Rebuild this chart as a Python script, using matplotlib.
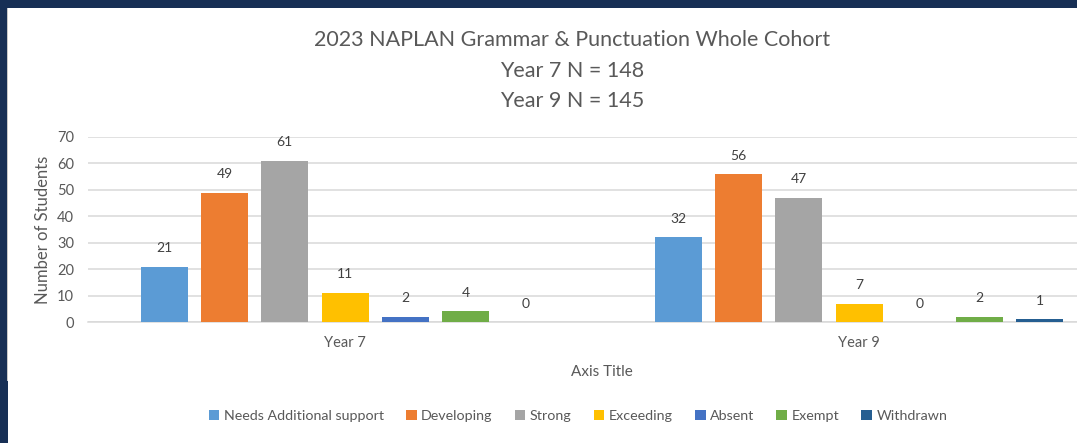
import matplotlib
matplotlib.use("Agg")
import matplotlib.pyplot as plt
from matplotlib.patches import Rectangle, Patch
import numpy as np

plt.rcParams['font.family'] = ['Lato', 'DejaVu Sans']

categories = ["Year 7", "Year 9"]
series_names = ["Needs Additional support", "Developing", "Strong", "Exceeding",
                "Absent", "Exempt", "Withdrawn"]
values = {
    "Needs Additional support": [21, 32],
    "Developing": [49, 56],
    "Strong": [61, 47],
    "Exceeding": [11, 7],
    "Absent": [2, 0],
    "Exempt": [4, 2],
    "Withdrawn": [0, 1],
}
colors = ["#5B9BD5", "#ED7D31", "#A5A5A5", "#FFC000", "#4472C4", "#70AD47", "#255E91"]
title_lines = ["2023 NAPLAN Grammar & Punctuation Whole Cohort", "Year 7 N = 148", "Year 9 N = 145"]

W, H = 1077, 443
fig = plt.figure(figsize=(W / 100, H / 100), dpi=100)
fig.patch.set_facecolor("white")

# axes: left 88px, right ~1116px (cropped), bottom y=322, top y=137
ax = fig.add_axes([88 / W, (H - 322) / H, (1116 - 88) / W, (322 - 137) / H])
ax.set_facecolor("white")

x = np.arange(len(categories))
spacing = 60.3 / 514
width = 47 / 514
text_col = "#595959"
for i, name in enumerate(series_names):
    pos = x + (i - 3) * spacing
    bars = ax.bar(pos, values[name], width=width, color=colors[i], zorder=3, label=name)
    for b, v in zip(bars, values[name]):
        ax.annotate(str(v), (b.get_x() + b.get_width() / 2, v), xytext=(0, 9),
                    textcoords="offset points", ha="center", va="bottom",
                    fontsize=10, color="#404040")

ax.set_xlim(-0.5, 1.5)
ax.set_ylim(0, 70)
ax.set_yticks(range(0, 71, 10))
ax.set_xticks(x)
ax.set_xticklabels(categories)
ax.yaxis.grid(True, color="#D9D9D9", linewidth=1.1, zorder=0)
for s in ["top", "right", "left"]:
    ax.spines[s].set_visible(False)
ax.spines["bottom"].set_color("#D9D9D9")
ax.spines["bottom"].set_linewidth(1.1)
ax.tick_params(axis="both", length=0, labelsize=10.5, colors=text_col)
ax.tick_params(axis="x", pad=10)
ax.tick_params(axis="y", pad=10)
ax.set_ylabel("Number of Students", fontsize=12, color=text_col, labelpad=4)
ax.set_xlabel("Axis Title", fontsize=11, color=text_col, labelpad=11)

# title
ys = [40, 71, 101]
for t, yy in zip(title_lines, ys):
    fig.text(572 / W, 1 - yy / H, t, ha="center", va="center", fontsize=15.5, color=text_col)

# legend
handles = [Patch(facecolor=c, label=n) for c, n in zip(colors, series_names)]
fig.legend(handles=handles, loc="center", bbox_to_anchor=(578 / W, 1 - 416 / H), ncol=7,
           frameon=False, fontsize=10.3, handlelength=0.75, handleheight=0.75,
           handletextpad=0.3, columnspacing=1.55, labelcolor=text_col)

# navy border
navy = "#172F55"
fig.patches.append(Rectangle((0, 1 - 8 / H), 1, 8 / H, transform=fig.transFigure,
                             facecolor=navy, edgecolor="none", zorder=10))
fig.patches.append(Rectangle((0, 0), 7 / W, 1, transform=fig.transFigure,
                             facecolor=navy, edgecolor="none", zorder=10))
fig.patches.append(Rectangle((0, 0), 8 / W, (H - 381) / H, transform=fig.transFigure,
                             facecolor=navy, edgecolor="none", zorder=10))
fig.patches.append(Rectangle((7 / W, (H - 381) / H), 1 / W, (381 - 8) / H, transform=fig.transFigure,
                             facecolor="#C8C8C8", edgecolor="none", zorder=10))

fig.savefig("out.png", dpi=100, facecolor="white")
